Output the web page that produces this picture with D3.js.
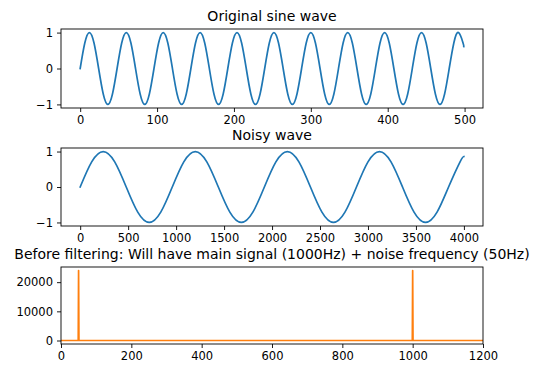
<!DOCTYPE html>
<html><head><meta charset="utf-8">
<script src="https://cdn.jsdelivr.net/npm/d3@7/dist/d3.min.js"></script>
<style>
html,body{margin:0;padding:0;background:#fff;}
svg{display:block;font-family:"DejaVu Sans",sans-serif;}
</style></head>
<body><svg id="c" width="534" height="367"></svg>
<script>
// ---- data ----
const titles = ["Original sine wave", "Noisy wave",
  "Before filtering: Will have main signal (1000Hz) + noise frequency (50Hz)"];

const sineX = [0,6,12,18,24,30,36,42,48,54,60,66,72,78,84,90,96,102,108,114,120,126,132,138,144,150,156,162,168,174,180,186,192,198,204,210,216,222,228,234,240,246,252,258,264,270,276,282,288,294,300,306,312,318,324,330,336,342,348,354,360,366,372,378,384,390,396,402,408,414,420,426,432,438,444,450,456,462,468,474,480,486,492,498,499];
const sineY = [0,0.71,1,0.71,0,-0.71,-1,-0.71, 0,0.71,1,0.71,0,-0.71,-1,-0.71,
  0,0.71,1,0.71,0,-0.71,-1,-0.71, 0,0.71,1,0.71,0,-0.71,-1,-0.71,
  0,0.71,1,0.71,0,-0.71,-1,-0.71, 0,0.71,1,0.71,0,-0.71,-1,-0.71,
  0,0.71,1,0.71,0,-0.71,-1,-0.71, 0,0.71,1,0.71,0,-0.71,-1,-0.71,
  0,0.71,1,0.71,0,-0.71,-1,-0.71, 0,0.71,1,0.71,0,-0.71,-1,-0.71,
  0,0.71,1,0.71,0.61];

const noisyX = [0,120,240,360,480,600,720,840,960,1080,1200,1320,1440,1560,1680,1800,1920,2040,2160,2280,2400,2520,2640,2760,2880,3000,3120,3240,3360,3480,3600,3720,3840,3960,3999];
const noisyY = [0,0.71,1,0.71,0,-0.71,-1,-0.71, 0,0.71,1,0.71,0,-0.71,-1,-0.71,
  0,0.71,1,0.71,0,-0.71,-1,-0.71, 0,0.71,1,0.71,0,-0.71,-1,-0.71,
  0,0.71,0.86];

const freqX = [0,49,50,51,999,1000,1001,1200];
const freqY = [0,0,24000,0,0,24000,0,0];

const ticks1X = [0,100,200,300,400,500];
const ticks2X = [0,500,1000,1500,2000,2500,3000,3500,4000];
const ticks3X = [0,200,400,600,800,1000,1200];
const ticksWaveY = [-1,0,1];
const ticks3Y = [0,10000,20000];

// ---- layout ----
const svg = d3.select("#c");
const L = 61, R = 483;
const panels = [
  {top:29, bottom:108, xs:sineX, ys:sineY, xd:[-24.95,523.95], yd:[-1.1,1.1], tx:ticks1X, ty:ticksWaveY, color:"#1f77b4", title:titles[0], curve:d3.curveNatural},
  {top:148, bottom:226, xs:noisyX, ys:noisyY, xd:[-199.95,4198.95], yd:[-1.1,1.1], tx:ticks2X, ty:ticksWaveY, color:"#1f77b4", title:titles[1], curve:d3.curveNatural},
  {top:267, bottom:344, xs:freqX, ys:freqY, xd:[0,1200], yd:[-1200,25200], tx:ticks3X, ty:ticks3Y, color:"#ff7f0e", title:titles[2], curve:d3.curveLinear}
];

const fmt = d => d < 0 ? "\u2212" + Math.abs(d) : String(d);
const TICKFS = 11.5, TITLEFS = 14;

panels.forEach((p,i) => {
  const x = d3.scaleLinear().domain(p.xd).range([L,R]);
  const y = d3.scaleLinear().domain(p.yd).range([p.bottom,p.top]);
  const g = svg.append("g");
  const cid = "clip"+i;
  g.append("clipPath").attr("id",cid).append("rect")
    .attr("x",L).attr("y",p.top).attr("width",R-L).attr("height",p.bottom-p.top);
  const pts = p.xs.map((v,k)=>[v,p.ys[k]]);
  g.append("path").datum(pts)
    .attr("clip-path","url(#"+cid+")")
    .attr("fill","none").attr("stroke",p.color).attr("stroke-width",1.7)
    .attr("stroke-linejoin","round").attr("stroke-linecap","square")
    .attr("d", d3.line().x(d=>x(d[0])).y(d=>y(d[1])).curve(p.curve));

  const ax = g.append("g").attr("transform",`translate(0,${p.bottom})`)
    .call(d3.axisBottom(x).tickValues(p.tx).tickFormat(fmt).tickSizeInner(4).tickSizeOuter(0).tickPadding(4));
  const ay = g.append("g").attr("transform",`translate(${L},0)`)
    .call(d3.axisLeft(y).tickValues(p.ty).tickFormat(fmt).tickSizeInner(4).tickSizeOuter(0).tickPadding(4));
  [ax,ay].forEach(a=>{
    a.select(".domain").remove();
    a.selectAll("line").attr("stroke","#000").attr("stroke-width",0.9);
    a.selectAll("text").attr("font-family","DejaVu Sans").attr("font-size",TICKFS).attr("fill","#000");
  });
  g.append("rect").attr("x",L).attr("y",p.top).attr("width",R-L).attr("height",p.bottom-p.top)
    .attr("fill","none").attr("stroke","#000").attr("stroke-width",0.9);
  g.append("text").attr("x",(L+R)/2).attr("y",p.top-8).attr("text-anchor","middle")
    .attr("font-size",TITLEFS).attr("fill","#000").text(p.title);
});
</script></body></html>
